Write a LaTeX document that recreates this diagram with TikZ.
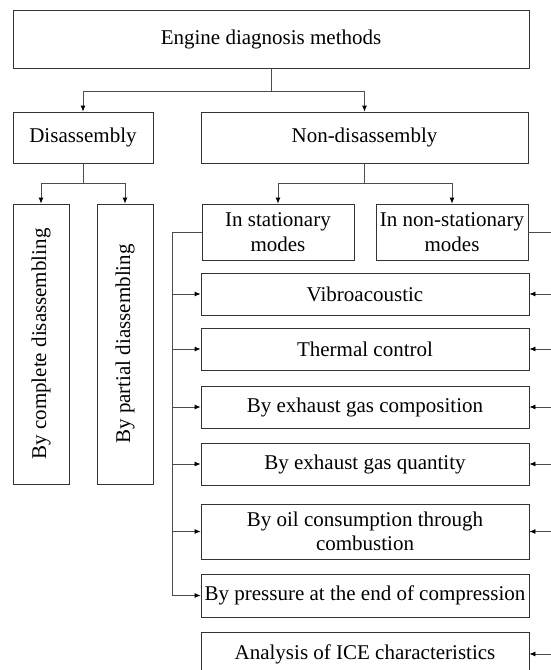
\documentclass[tikz,border=0pt]{standalone}
\usepackage{fontspec}
\setmainfont{Liberation Serif}
\usetikzlibrary{arrows.meta}
\begin{document}
\begin{tikzpicture}%
	[x=1pt, y=-1pt,
	font=\fontsize{21}{24.5}\selectfont,
	box/.style={draw=black!80, line width=0.8pt, inner sep=0pt, align=center},
	vbox/.style={box, rotate=90, minimum width=280pt, minimum height=56pt},
	wide/.style={box, minimum width=328pt},
	line/.style={draw=black!70, line width=0.8pt},
	arrow/.style={line, -{Latex[length=6pt,width=5pt,color=black]}}]
%
\useasboundingbox (0,0) rectangle (551,670);
%% the boxes
\node[box, minimum width=516pt, minimum height=58pt] (engine) at (271,39) {Engine diagnosis methods};
\node[box, minimum width=140pt, minimum height=51pt] (disasm) at (83,137.5) {Disassembly};
\node[box, minimum width=327pt, minimum height=51pt] (nondis) at (364.5,137.5) {Non-disassembly};
%
\node[vbox] (complete) at (41,344) {By complete disassembling};
\node[vbox] (partial) at (125,344) {By partial diassembling};
%
\node[box, minimum width=152pt, minimum height=56pt] (stat) at (278,232) {In stationary\\modes};
\node[box, minimum width=152pt, minimum height=56pt] (nonstat) at (452,232) {In non-stationary\\modes};
%
\node[wide, minimum height=42pt] (vibro) at (365,294) {Vibroacoustic};
\node[wide, minimum height=42pt] (thermal) at (365,349) {Thermal control};
\node[wide, minimum height=42pt] (gascomp) at (365,407) {By exhaust gas composition};
\node[wide, minimum height=42pt] (gasqty) at (365,464) {By exhaust gas quantity};
\node[wide, minimum height=55pt] (oil) at (365,531.5) {By oil consumption through\\combustion};
\node[wide, minimum height=43pt] (pressure) at (365,595.5) {By pressure at the end of compression};
\node[wide, minimum height=44pt] (analysis) at (365,654) {Analysis of ICE characteristics};
%%
%% the connectors
\draw[arrow] (engine.south) -- ++(0,22.5) -| (disasm.north);
\draw[arrow] (engine.south) -- ++(0,22.5) -| (nondis.north);
\draw[arrow] (disasm.south) -- ++(0,20) -| (complete.east);
\draw[arrow] (disasm.south) -- ++(0,20) -| (partial.east);
\draw[arrow] (nondis.south) -- ++(0,20) -| (stat.north);
\draw[arrow] (nondis.south) -- ++(0,20) -| (nonstat.north);
%
\draw[line] (stat.west) -- ++(-29,0) coordinate (lbus);
\draw[line] (nonstat.east) -- ++(30,0) coordinate (rbus);
\foreach \t in {vibro,thermal,gascomp,gasqty,oil,pressure}
	\draw[arrow] (lbus) |- (\t.west);
\foreach \t in {vibro,thermal,gascomp,gasqty,oil,analysis}
	\draw[arrow] (rbus) |- (\t.east);
\end{tikzpicture}
\end{document}
